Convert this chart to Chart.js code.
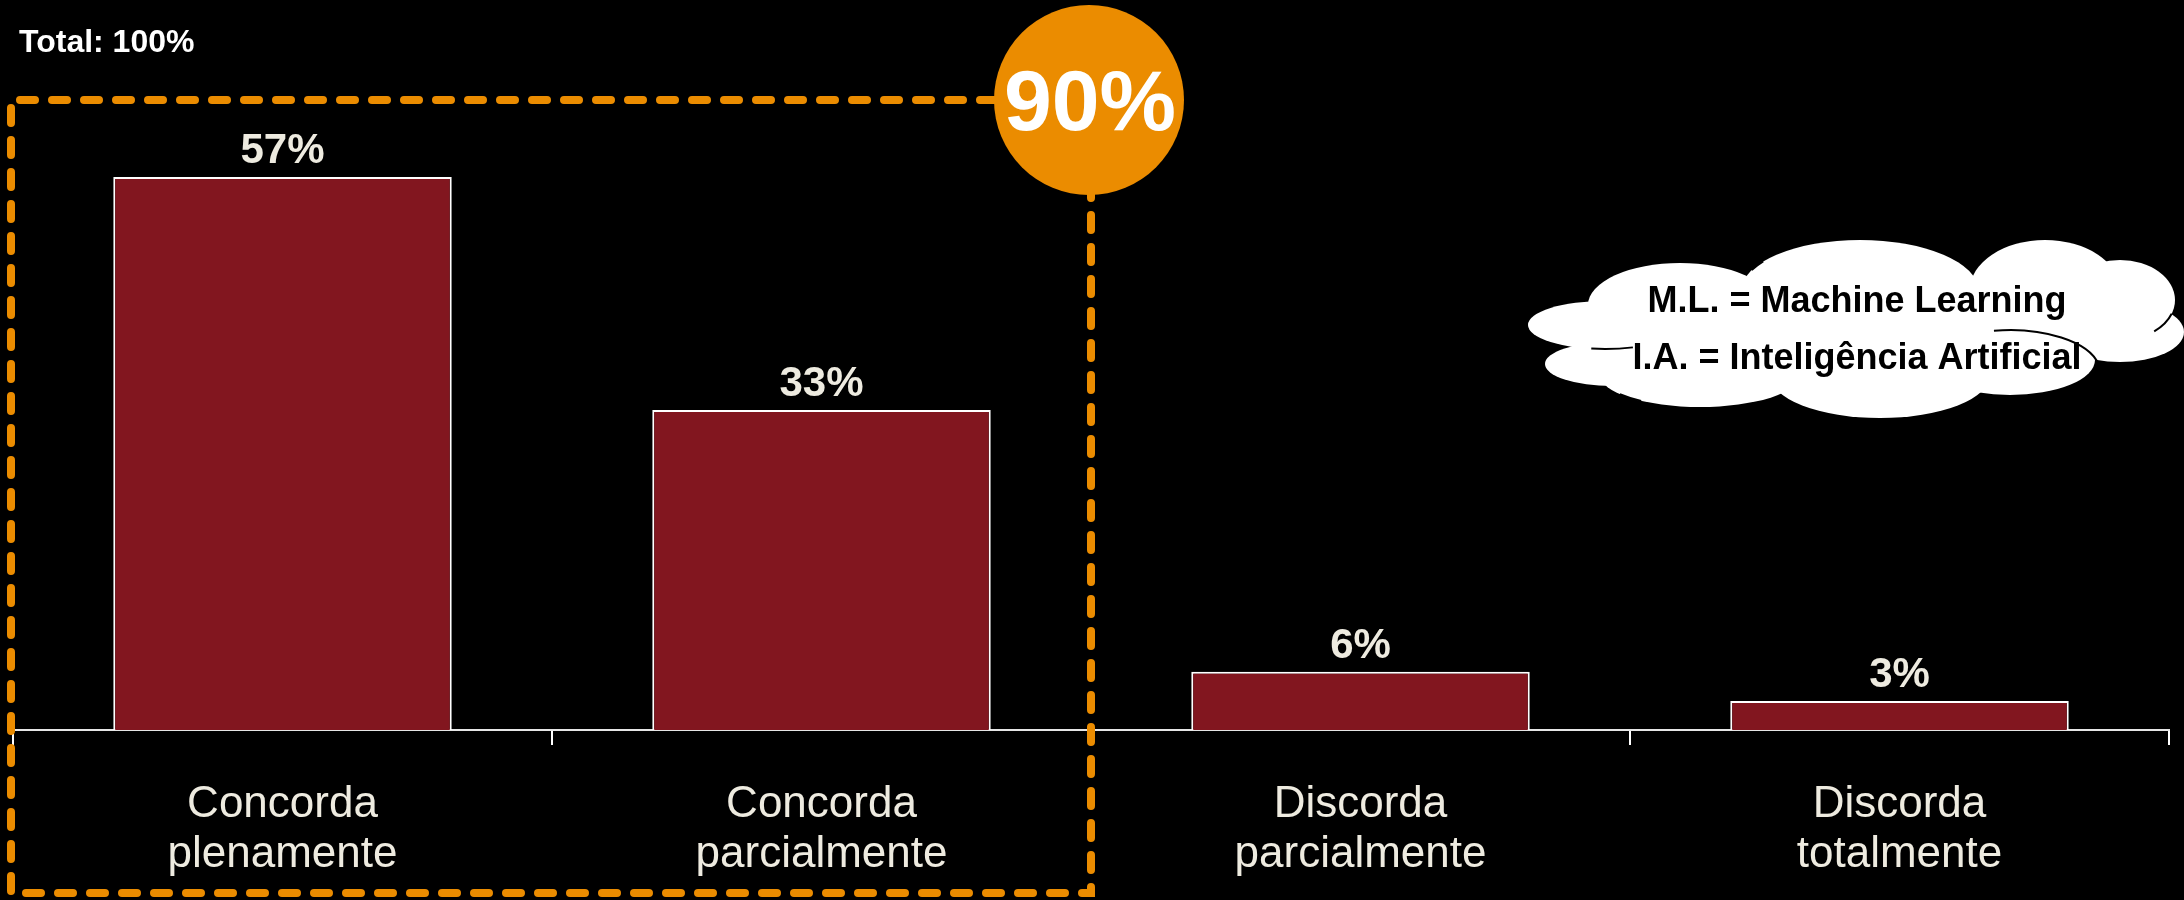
<!DOCTYPE html>
<html>
<head>
<meta charset="utf-8">
<script src="https://cdn.jsdelivr.net/npm/chart.js@4"></script>
<style>
    html, body { margin: 0; padding: 0; background: #000; }
    #wrap { width: 2184px; height: 900px; }
</style>
</head>
<body>
<div id="wrap"><canvas id="chart" width="2184" height="900"></canvas></div>
<script>
// 資料
const categories = [
    ['Concorda', 'plenamente'],
    ['Concorda', 'parcialmente'],
    ['Discorda', 'parcialmente'],
    ['Discorda', 'totalmente']
];
const values = [57, 33, 6, 3];
const totalText = 'Total: 100%';
const noteLines = ['M.L. = Machine Learning', 'I.A. = Inteligência Artificial'];

const FONT = "'Liberation Sans', Arial, sans-serif";
const ORANGE = '#eb8c00';
const LABEL_COLOR = '#eeebe0';

// 柱上數值
const valueLabels = {
    id: 'valueLabels',
    afterDatasetsDraw(chart) {
        const ctx = chart.ctx;
        const meta = chart.getDatasetMeta(0);
        ctx.save();
        ctx.font = `bold 42px ${FONT}`;
        ctx.fillStyle = LABEL_COLOR;
        ctx.textAlign = 'center';
        ctx.textBaseline = 'alphabetic';
        meta.data.forEach((bar, i) => {
            ctx.fillText(values[i] + '%', bar.x, bar.y - 14);
        });
        ctx.restore();
    }
};

// 雲朵與標註
function drawCloud(ctx) {
    const blobs = [
        [1680, 305, 92, 42],
        [1860, 290, 118, 50],
        [2045, 290, 75, 50],
        [2120, 300, 55, 40],
        [2120, 332, 64, 30],
        [1605, 325, 77, 24],
        [1612, 364, 67, 22],
        [1700, 375, 100, 32],
        [1880, 375, 110, 43],
        [2010, 360, 85, 35],
        [1700, 340, 125, 50],
        [1870, 330, 240, 60]
    ];
    ctx.save();
    ctx.fillStyle = '#fff';
    blobs.forEach(([cx, cy, rx, ry]) => {
        ctx.beginPath();
        ctx.ellipse(cx, cy, rx, ry, 0, 0, Math.PI * 2);
        ctx.fill();
    });
    // 內部輪廓線
    ctx.strokeStyle = '#000';
    ctx.lineWidth = 2;
    const arcs = [
        [2010, 372, 90, 42, -1.75, 0.15],
        [2120, 300, 55, 40, 0.35, 0.9],
        [1605, 325, 77, 24, 1.2, 1.75],
        [1860, 290, 118, 50, 3.55, 3.75],
        [1700, 375, 100, 32, 2.2, 2.5]
    ];
    arcs.forEach(([cx, cy, rx, ry, a0, a1]) => {
        ctx.beginPath();
        ctx.ellipse(cx, cy, rx, ry, 0, a0, a1);
        ctx.stroke();
    });
    ctx.fillStyle = '#000';
    ctx.font = `bold 36px ${FONT}`;
    ctx.textAlign = 'center';
    ctx.textBaseline = 'alphabetic';
    ctx.fillText(noteLines[0], 1857, 312);
    ctx.fillText(noteLines[1], 1857, 369);
    ctx.restore();
}

const overlay = {
    id: 'overlay',
    afterDraw(chart) {
        const ctx = chart.ctx;
        const x = chart.scales.x;
        const right = (x.getPixelForValue(1) + x.getPixelForValue(2)) / 2;
        const left = 11, top = 100, bottom = 893;

        ctx.save();
        ctx.fillStyle = '#fff';
        ctx.font = `bold 32px ${FONT}`;
        ctx.textBaseline = 'alphabetic';
        ctx.fillText(totalText, 19, 52);

        // 虛線框
        ctx.strokeStyle = ORANGE;
        ctx.lineWidth = 8;
        ctx.lineCap = 'round';
        ctx.setLineDash([15, 17]);
        ctx.beginPath();
        ctx.moveTo(right, top);
        ctx.lineTo(left, top);
        ctx.lineTo(left, bottom);
        ctx.lineTo(right, bottom);
        ctx.lineTo(right, top);
        ctx.stroke();
        ctx.setLineDash([]);

        // 合計圓圈
        const sum = values[0] + values[1];
        ctx.fillStyle = ORANGE;
        ctx.beginPath();
        ctx.arc(right - 2, 100, 95, 0, Math.PI * 2);
        ctx.fill();
        ctx.fillStyle = '#fff';
        ctx.font = `bold 86px ${FONT}`;
        ctx.textAlign = 'center';
        ctx.textBaseline = 'alphabetic';
        ctx.fillText(sum + '%', right - 1, 130);
        ctx.restore();

        drawCloud(ctx);
    }
};

new Chart(document.getElementById('chart'), {
    type: 'bar',
    data: {
        labels: categories,
        datasets: [{
            data: values,
            backgroundColor: '#82161f',
            borderColor: '#ffffff',
            borderWidth: 2,
            borderSkipped: 'bottom',
            categoryPercentage: 1,
            barPercentage: 0.628
        }]
    },
    options: {
        responsive: false,
        animation: false,
        layout: { padding: { top: 148, left: 13, right: 15, bottom: 0 } },
        plugins: {
            legend: { display: false },
            tooltip: { enabled: false }
        },
        scales: {
            x: {
                grid: {
                    display: true,
                    offset: true,
                    drawOnChartArea: false,
                    drawTicks: true,
                    tickLength: 15,
                    color: '#ffffff',
                    lineWidth: 2
                },
                border: { display: true, color: '#e6e6e6', width: 2 },
                ticks: {
                    color: LABEL_COLOR,
                    padding: 35,
                    maxRotation: 0,
                    autoSkip: false,
                    font: { family: FONT, size: 44, lineHeight: 1.14 }
                },
                afterFit(scale) {
                    scale.height = 170;
                }
            },
            y: {
                display: false,
                min: 0,
                max: 60
            }
        }
    },
    plugins: [valueLabels, overlay]
});
</script>
</body>
</html>
